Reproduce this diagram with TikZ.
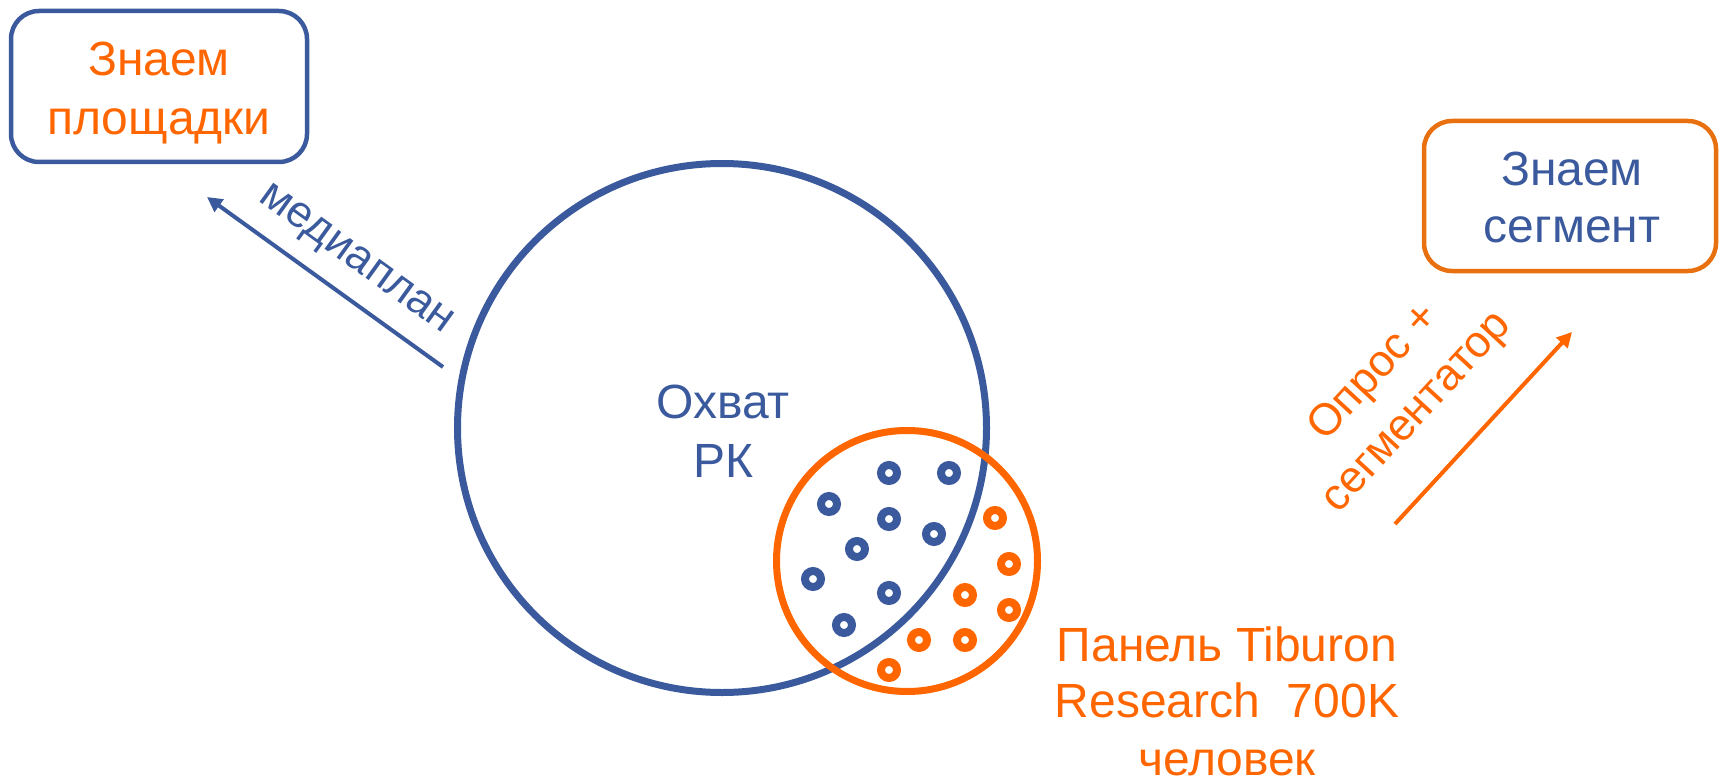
\documentclass[tikz,border=0pt]{standalone}
\usepackage{fontspec}
\setmainfont{Liberation Sans}
\usetikzlibrary{arrows.meta}
\definecolor{cblue}{HTML}{3B5A9D}
\definecolor{corange}{HTML}{FF6600}
\definecolor{cborange}{HTML}{E8700E}
\begin{document}
\begin{tikzpicture}[x=1pt,y=-1pt,
  txt/.style={font=\fontsize{48}{58}\selectfont, align=center, inner sep=0pt},
  rtxt/.style={font=\fontsize{44.5}{58}\selectfont, align=center, inner sep=0pt},
  boxstyle/.style={draw, line width=4.5pt, rounded corners=28pt, inner sep=0pt},
  arr/.style={line width=4pt, -{Triangle[length=15pt,width=15pt]}},
  dotblue/.style={circle, draw=cblue, line width=8pt, minimum size=16pt, inner sep=0pt},
  dotorange/.style={circle, draw=corange, line width=8pt, minimum size=16pt, inner sep=0pt}]
\useasboundingbox (0,0) rectangle (1719,778);
% boxes
\node[boxstyle, draw=cblue, minimum width=296pt, minimum height=151pt] (b1) at (159,86.5) {};
\node[txt, text=corange, anchor=base] (t1a) at (159,76) {Знаем};
\node[txt, text=corange, anchor=base] (t1b) at (159,135) {площадки};
\node[boxstyle, draw=cborange, minimum width=292pt, minimum height=150pt] (b2) at (1570,196) {};
\node[txt, text=cblue, anchor=base] (t2a) at (1572,186) {Знаем};
\node[txt, text=cblue, anchor=base] (t2b) at (1572,243) {сегмент};
% circles
\node[circle, draw=cblue, line width=7pt, minimum size=529pt, inner sep=0pt] (reach) at (722,428) {};
\node[circle, draw=corange, line width=7pt, minimum size=261pt, inner sep=0pt] (panel) at (907,561) {};
\node[txt, text=cblue, anchor=base] (o1) at (723,418) {Охват};
\node[txt, text=cblue, anchor=base] (o2) at (723,477) {РК};
% dots
\foreach \x/\y [count=\i] in {889/473, 949/473, 829/504, 889/519, 934/534, 857/549, 813/579, 889/593, 844/625}
  \node[dotblue] (db\i) at (\x,\y) {};
\foreach \x/\y [count=\i] in {995/518, 1009/564, 965/595, 1009/610, 919/640, 965/640, 889/670}
  \node[dotorange] (do\i) at (\x,\y) {};
% panel label
\node[txt, text=corange, anchor=base] (p1) at (1227,661) {Панель Tiburon};
\node[txt, text=corange, anchor=base] (p2) at (1227,717) {Research\ \ 700K};
\node[txt, text=corange, anchor=base] (p3) at (1227,775) {человек};
% arrows
\coordinate (a1s) at (443,367);
\coordinate (a1e) at (207,197);
\draw[arr, cblue] (a1s) -- (a1e);
\node[rtxt, text=cblue, rotate=-35.8] (ml) at (355,261) {медиаплан};
\coordinate (a2s) at (1395,524);
\coordinate (a2e) at (1572,332);
\draw[arr, corange] (a2s) -- (a2e);
\node[rtxt, text=corange, rotate=47.3] (sl) at (1396,393) {Опрос +\\сегментатор};
\end{tikzpicture}
\end{document}
